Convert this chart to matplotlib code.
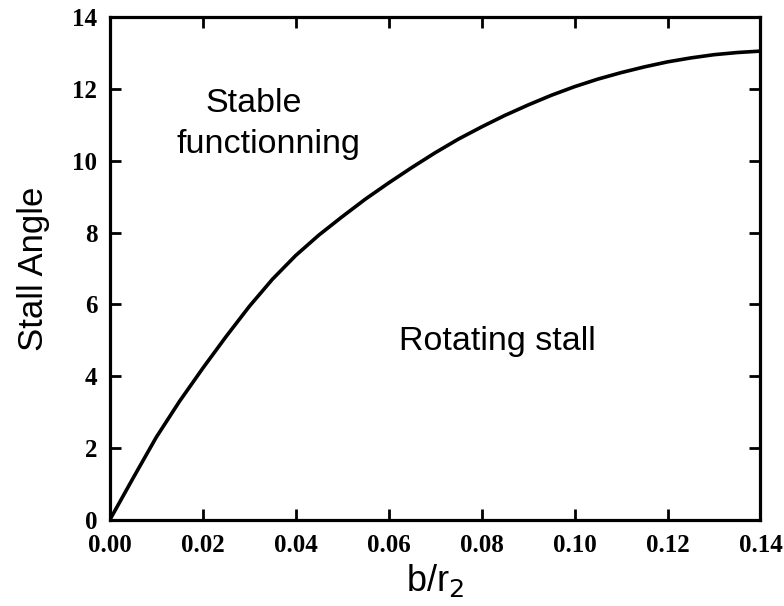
import matplotlib
matplotlib.use('Agg')
import matplotlib.pyplot as plt

# stall boundary (every 0.005)
b_over_r2 = [0.0, 0.005, 0.01, 0.015, 0.02, 0.025, 0.03, 0.035, 0.04, 0.045,
             0.05, 0.055, 0.06, 0.065, 0.07, 0.075, 0.08, 0.085, 0.09, 0.095,
             0.10, 0.105, 0.11, 0.115, 0.12, 0.125, 0.13, 0.135, 0.14]
stall_angle = [0.0, 1.16, 2.3, 3.3, 4.22, 5.1, 5.94, 6.7, 7.36, 7.93,
               8.44, 8.93, 9.38, 9.81, 10.22, 10.6, 10.94, 11.26, 11.55, 11.82,
               12.06, 12.27, 12.45, 12.61, 12.75, 12.86, 12.95, 13.01, 13.05]

x_ticks = [0.00, 0.02, 0.04, 0.06, 0.08, 0.10, 0.12, 0.14]
x_labels = ['0.00', '0.02', '0.04', '0.06', '0.08', '0.10', '0.12', '0.14']
y_ticks = [0, 2, 4, 6, 8, 10, 12, 14]

fig = plt.figure(figsize=(7.84, 6.06), dpi=100)
ax = fig.add_axes([0.140, 0.142, 0.830, 0.830])

ax.plot(b_over_r2, stall_angle, color='black', linewidth=2.6)

ax.set_xlim(0, 0.14)
ax.set_ylim(0, 14)
ax.set_xticks(x_ticks)
ax.set_xticklabels(x_labels)
ax.set_yticks(y_ticks)

for lab in ax.get_xticklabels() + ax.get_yticklabels():
    lab.set_fontfamily('Liberation Serif')
    lab.set_fontweight('bold')
    lab.set_fontsize(18)

ax.tick_params(direction='in', length=8, width=2, top=True, right=True)
ax.tick_params(axis='x', pad=10)
ax.tick_params(axis='y', pad=9)
for s in ax.spines.values():
    s.set_linewidth(2.3)

ax.set_xlabel('b/r$_2$', fontsize=26, family='Liberation Sans', labelpad=4)
ax.set_ylabel('Stall Angle', fontsize=25, family='Liberation Sans', labelpad=16)

sans = dict(fontsize=24.5, family='Liberation Sans', va='center', ha='center')
ax.text(0.0309, 11.6, 'Stable', **sans)
ax.text(0.0341, 10.45, 'functionning', **sans)
ax.text(0.0835, 4.97, 'Rotating stall', **sans)

fig.savefig('out.png', dpi=100)
